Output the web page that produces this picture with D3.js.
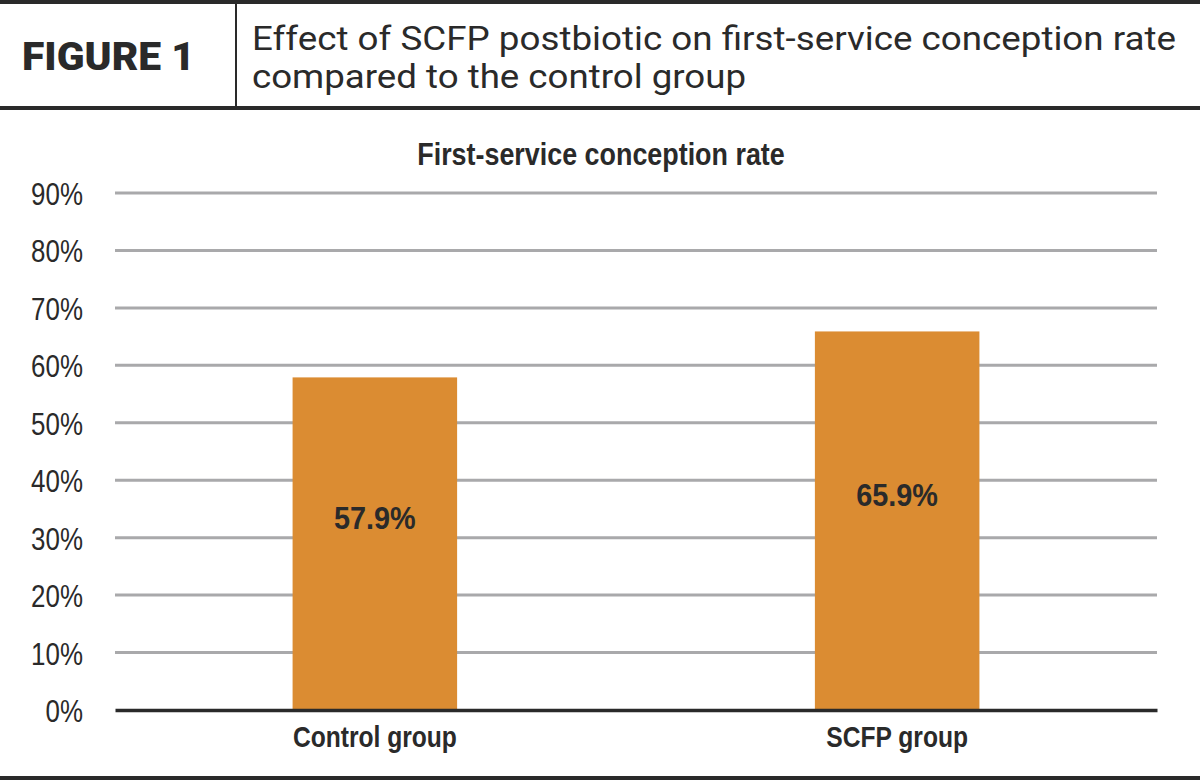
<!DOCTYPE html>
<html>
<head>
<meta charset="utf-8">
<script src="https://cdn.jsdelivr.net/npm/d3@7"></script>
<style>
  body { margin: 0; background: #fff; }
  svg { display: block; }
</style>
</head>
<body>
<div id="chart"></div>
<script>
// data
const groups = ['Control group', 'SCFP group'];
const rates = [57.9, 65.9];
const yTicks = [0, 10, 20, 30, 40, 50, 60, 70, 80, 90];
const figureLabel = 'FIGURE 1';
const titleLines = ['Effect of SCFP postbiotic on first-service conception rate', 'compared to the control group'];
const chartTitle = 'First-service conception rate';

const width = 1200, height = 780;
const margin = {top: 193, right: 43, bottom: 70, left: 115};
const ink = '#2a2a2a';
const sans = '"Liberation Sans", Arial, sans-serif';

// no narrow font installed, so squeeze the text horizontally
function condense(sel, factor) {
    sel.each(function() {
        const w = this.getComputedTextLength();
        d3.select(this)
            .attr('textLength', w * factor)
            .attr('lengthAdjust', 'spacingAndGlyphs');
    });
}

const svg = d3.select('#chart').append('svg')
    .attr('width', width)
    .attr('height', height);

// header box
svg.append('line').attr('x1', 0).attr('x2', width).attr('y1', 2).attr('y2', 2)
    .attr('stroke', ink).attr('stroke-width', 4);
svg.append('line').attr('x1', 0).attr('x2', width).attr('y1', 108).attr('y2', 108)
    .attr('stroke', ink).attr('stroke-width', 4);
svg.append('line').attr('x1', 236).attr('x2', 236).attr('y1', 4).attr('y2', 106)
    .attr('stroke', ink).attr('stroke-width', 2);
svg.append('line').attr('x1', 0).attr('x2', width).attr('y1', 778).attr('y2', 778)
    .attr('stroke', ink).attr('stroke-width', 4);

svg.append('text')
    .attr('x', 22).attr('y', 70)
    .attr('font-family', 'Roboto, sans-serif')
    .attr('font-weight', 900)
    .attr('font-size', 39)
    .attr('fill', ink)
    .attr('textLength', 173)
    .attr('lengthAdjust', 'spacingAndGlyphs')
    .text(figureLabel);

const titleWidths = [924, 494];
svg.selectAll('.title-line')
    .data(titleLines)
    .join('text')
        .attr('class', 'title-line')
        .attr('x', 252)
        .attr('y', (d, i) => 50 + i * 38)
        .attr('font-family', 'Roboto, sans-serif')
        .attr('font-size', 34)
        .attr('fill', ink)
        .attr('textLength', (d, i) => titleWidths[i])
        .attr('lengthAdjust', 'spacingAndGlyphs')
        .text(d => d);

// chart
const x = d3.scaleBand()
    .domain(groups)
    .range([margin.left, width - margin.right])
    .paddingInner(0.685)
    .paddingOuter(0.34);

const y = d3.scaleLinear()
    .domain([0, 90])
    .range([710, margin.top]);

svg.append('text')
    .attr('x', 601).attr('y', 165)
    .attr('text-anchor', 'middle')
    .attr('font-family', sans)
    .attr('font-weight', 700)
    .attr('font-size', 32)
    .attr('fill', ink)
    .text(chartTitle)
    .call(condense, 0.84);

// gridlines
svg.append('g')
    .selectAll('line')
    .data(yTicks.filter(d => d > 0))
    .join('line')
        .attr('x1', margin.left)
        .attr('x2', width - margin.right)
        .attr('y1', d => y(d))
        .attr('y2', d => y(d))
        .attr('stroke', '#a9a9ab')
        .attr('stroke-width', 3);

// y axis labels
const yAxis = d3.axisLeft(y)
    .tickValues(yTicks)
    .tickFormat(d => d + '%')
    .tickSize(0)
    .tickPadding(32);

const yg = svg.append('g')
    .attr('transform', `translate(${margin.left},0)`)
    .call(yAxis);
yg.select('.domain').remove();
yg.selectAll('text')
    .attr('font-family', sans)
    .attr('font-size', 32)
    .attr('fill', ink)
    .attr('dy', '0.36em')
    .call(condense, 0.81);

// bars
svg.append('g')
    .selectAll('rect')
    .data(rates)
    .join('rect')
        .attr('x', (d, i) => x(groups[i]))
        .attr('y', d => y(d))
        .attr('width', x.bandwidth())
        .attr('height', d => y(0) - y(d))
        .attr('fill', '#db8c32');

svg.append('g')
    .selectAll('text')
    .data(rates)
    .join('text')
        .attr('x', (d, i) => x(groups[i]) + x.bandwidth() / 2)
        .attr('y', d => (y(d) + y(0)) / 2 - 15)
        .attr('text-anchor', 'middle')
        .attr('font-family', sans)
        .attr('font-weight', 700)
        .attr('font-size', 32)
        .attr('fill', ink)
        .text(d => d.toFixed(1) + '%')
        .call(condense, 0.9);

// x axis
const xAxis = d3.axisBottom(x).tickSize(0).tickPadding(16);
const xg = svg.append('g')
    .attr('transform', `translate(0,${y(0)})`)
    .call(xAxis);
xg.select('.domain')
    .attr('stroke', ink)
    .attr('stroke-width', 3.5);
xg.selectAll('text')
    .attr('font-family', sans)
    .attr('font-weight', 700)
    .attr('font-size', 30)
    .attr('fill', ink)
    .call(condense, 0.82);
</script>
</body>
</html>
